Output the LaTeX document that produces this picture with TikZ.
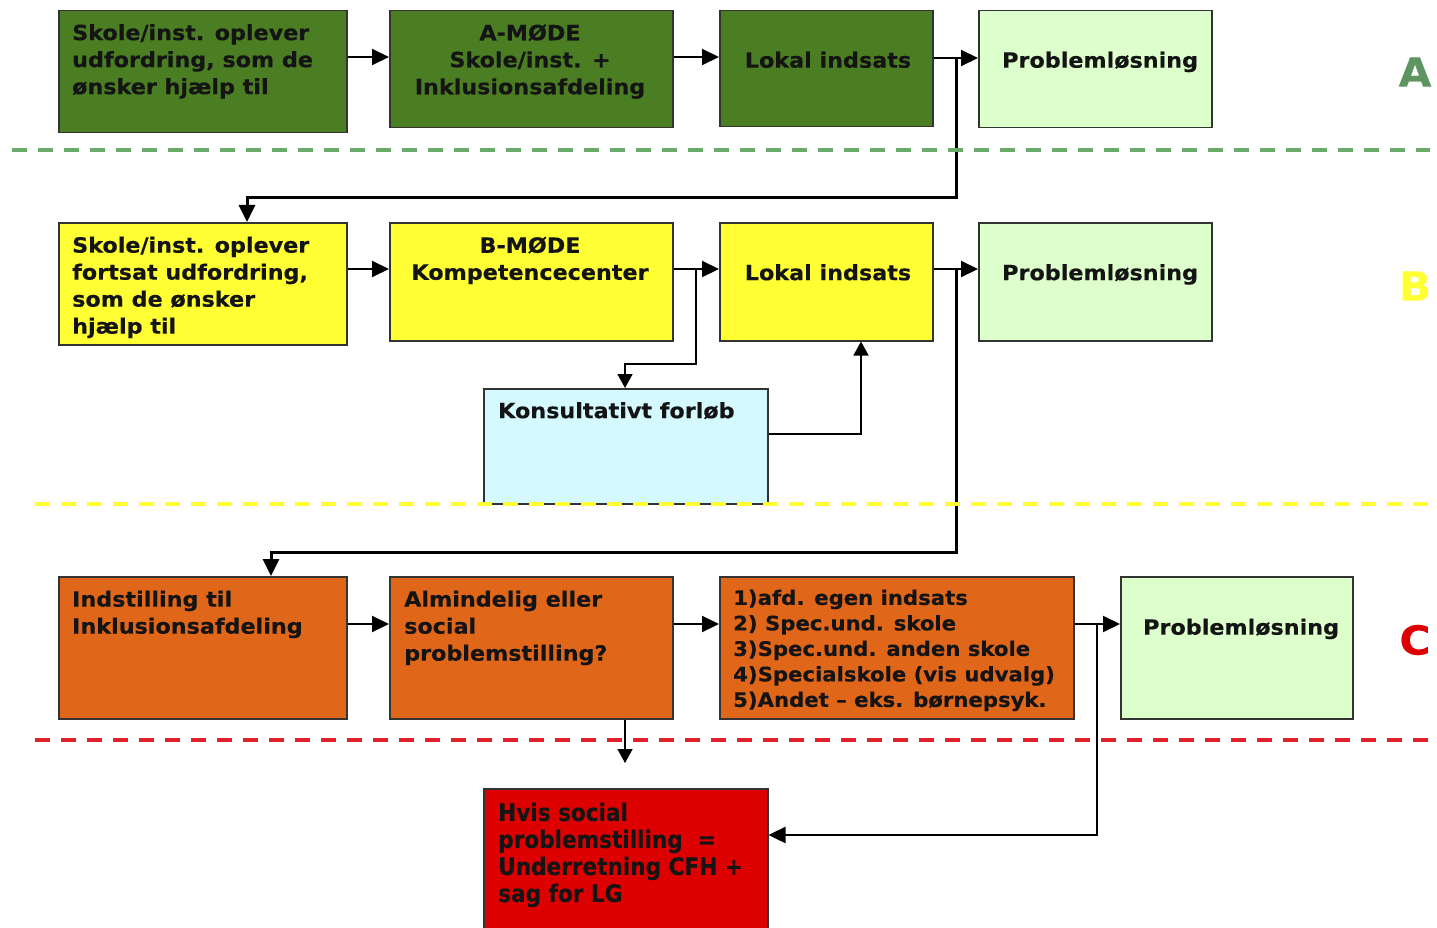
\documentclass[tikz,border=0pt]{standalone}
\usepackage{fontspec}
\setmainfont{DejaVu Sans}[FakeStretch=1.06, BoldFeatures={FakeBold=0.3}]
\newfontfamily\condfont{DejaVu Sans Condensed}[BoldFeatures={FakeBold=0.3}]
\usetikzlibrary{arrows.meta}
\definecolor{dgreen}{HTML}{4B7D23}
\definecolor{lgreen}{HTML}{DDFFCC}
\definecolor{byellow}{HTML}{FFFF33}
\definecolor{lcyan}{HTML}{D4FAFF}
\definecolor{orng}{HTML}{E0661A}
\definecolor{rred}{HTML}{DD0000}
\definecolor{agreen}{HTML}{5E9460}
\definecolor{dashgreen}{HTML}{6AAA6A}
\definecolor{dashred}{HTML}{E0202A}
\begin{document}
\begin{tikzpicture}[x=1pt,y=-1pt,
  box/.style={draw=black!80, line width=1.5pt, inner sep=0pt, anchor=north west},
  txt/.style={inner sep=0pt, font=\fontsize{21}{27}\selectfont\bfseries, align=left,
    execute at begin node={\rule{0pt}{19pt}}, anchor=north west, text=black!92},
  ctxt/.style={txt, align=center, anchor=north},
  arr/.style={line width=2pt, -{Triangle[length=17pt,width=16pt]}},
  arrthick/.style={line width=3pt, -{Triangle[length=17pt,width=16pt]}},
  arrthin/.style={line width=1.6pt, -{Triangle[length=14pt,width=15pt]}},
  sep/.style={line width=3.5pt, dash pattern=on 15pt off 11pt},
  sect/.style={font=\fontsize{40}{40}\selectfont\bfseries, inner sep=0pt}
]
\clip (0,0) rectangle (1437,928);
\fill[white] (0,0) rectangle (1437,928);

% ---------- Row A ----------
\node[box, fill=dgreen, minimum width=288pt, minimum height=122pt] (a1) at (58,10) {};
\node[box, fill=dgreen, minimum width=283pt, minimum height=117pt] (a2) at (389,10) {};
\node[box, fill=dgreen, minimum width=213pt, minimum height=116pt] (a3) at (719,10) {};
\node[box, fill=lgreen, minimum width=233pt, minimum height=117pt] (a4) at (978,10) {};
\node[txt] (ta1) at (72,24) {Skole/inst. oplever\\udfordring, som de\\ønsker hjælp til};
\node[ctxt] (ta2) at (530,24) {A-MØDE\\Skole/inst. +\\Inklusionsafdeling};
\node[ctxt] (ta3) at (828,48.5) {Lokal indsats};
\node[txt] (ta4) at (1002,48.5) {Problemløsning};
\node[sect, text=agreen] (sa) at (1415,72) {A};

\draw[arr] (a1.east |- 0,57) -- (a2.west |- 0,57);
\draw[arr] (a2.east |- 0,57) -- (a3.west |- 0,57);
\draw[arr] (a3.east |- 0,58) -- (a4.west |- 0,58);
\coordinate (ja) at (956,58);

% ---------- Row B ----------
\node[box, fill=byellow, minimum width=288pt, minimum height=122pt] (b1) at (58,222) {};
\node[box, fill=byellow, minimum width=283pt, minimum height=118pt] (b2) at (389,222) {};
\node[box, fill=byellow, minimum width=213pt, minimum height=118pt] (b3) at (719,222) {};
\node[box, fill=lgreen, minimum width=233pt, minimum height=118pt] (b4) at (978,222) {};
\node[box, fill=lcyan, minimum width=284pt, minimum height=115pt] (k) at (483,388) {};
\node[txt] (tb1) at (72,236.5) {Skole/inst. oplever\\fortsat udfordring,\\som de ønsker\\hjælp til};
\node[ctxt] (tb2) at (530,236.5) {B-MØDE\\Kompetencecenter};
\node[ctxt] (tb3) at (828,261) {Lokal indsats};
\node[txt] (tb4) at (1002,261) {Problemløsning};
\node[txt] (tk) at (498,399) {Konsultativt forløb};
\node[sect, text=byellow] (sb) at (1415,286) {B};

\draw[arr] (b1.east |- 0,269) -- (b2.west |- 0,269);
\draw[arr] (b2.east |- 0,269) -- (b3.west |- 0,269);
\draw[arr] (b3.east |- 0,269) -- (b4.west |- 0,269);
\coordinate (jb) at (956,269);
\coordinate (jk) at (696,269);
\draw[arrthin] (jk) -- (696,364) -- (625,364) -- (k.north -| 625,0);
\draw[arrthin] (k.east |- 0,434) -- (861,434) -- (b3.south -| 861,0);

% ---------- Row C ----------
\node[box, fill=orng, minimum width=288pt, minimum height=142pt] (c1) at (58,576) {};
\node[box, fill=orng, minimum width=283pt, minimum height=142pt] (c2) at (389,576) {};
\node[box, fill=orng, minimum width=354pt, minimum height=142pt] (c3) at (719,576) {};
\node[box, fill=lgreen, minimum width=232pt, minimum height=142pt] (c4) at (1120,576) {};
\node[box, fill=rred, minimum width=284pt, minimum height=160pt] (r) at (483,788) {};
\node[txt] (tc1) at (72,590.5) {Indstilling til\\Inklusionsafdeling};
\node[txt] (tc2) at (404,590.5) {Almindelig eller\\social\\problemstilling?};
\node[txt, font=\fontsize{20}{25.5}\selectfont\bfseries] (tc3) at (733,589.5) {1)afd. egen indsats\\2) Spec.und. skole\\3)Spec.und. anden skole\\4)Specialskole (vis udvalg)\\5)Andet – eks. børnepsyk.};
\node[txt] (tc4) at (1143,615.5) {Problemløsning};
\node[txt, font=\fontsize{24}{27}\selectfont\condfont\bfseries] (tr) at (498,802.5) {Hvis social\\problemstilling~~=\\Underretning CFH +\\sag for LG};
\node[sect, text=rred] (sc) at (1415,640) {C};

\draw[arr] (c1.east |- 0,624) -- (c2.west |- 0,624);
\draw[arr] (c2.east |- 0,624) -- (c3.west |- 0,624);
\draw[arr] (c3.east |- 0,624) -- (c4.west |- 0,624);
\coordinate (jc) at (1097,624);
\coordinate (rc) at (625,763);
\draw[arrthin] (c2.south -| 625,0) -- (rc);
\draw[arr, line width=2.5pt] (jc) -- (1097,835) -- (r.east |- 0,835);

% long connectors
\draw[arrthick] (ja) -- (956,198) -- (247,198) -- (b1.north -| 247,0);
\draw[arrthick] (jb) -- (956,552) -- (271,552) -- (c1.north -| 271,0);

% ---------- separators ----------
\draw[sep, draw=dashgreen] (12,150) -- (1430,150);
\draw[sep, draw=byellow] (35,504) -- (1430,504);
\draw[sep, draw=dashred] (35,740) -- (1430,740);
\end{tikzpicture}
\end{document}
